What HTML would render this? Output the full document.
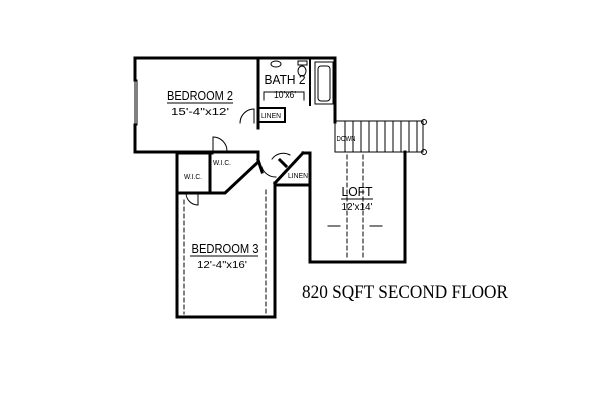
<!DOCTYPE html>
<html><head><meta charset="utf-8"><style>html,body{margin:0;padding:0;background:#fff;}svg{display:block}</style></head>
<body>
<svg width="600" height="400" viewBox="0 0 600 400" xmlns="http://www.w3.org/2000/svg" font-family="Liberation Sans, sans-serif">
<g stroke="#000" fill="none" stroke-linecap="square">
<g stroke-width="3">
<polyline points="135,58 335,58 335,122"/>
<polyline points="135,125 135,152 258,152 258,160"/>
<line x1="135" y1="58" x2="135" y2="80"/>
<line x1="258" y1="58" x2="258" y2="128"/>
<polyline points="177,153 177,317 275,317 275,183"/>
<line x1="177" y1="153" x2="212" y2="153"/>
<polyline points="177,193 225,193 258,162"/>
<line x1="210" y1="153" x2="210" y2="193"/>
<polyline points="303,153 310,153 310,262 405,262 405,152"/>
<polyline points="275,183 303,153"/>
<line x1="275" y1="185" x2="310" y2="185"/>
<line x1="258" y1="160" x2="262" y2="172"/>
<line x1="280" y1="160" x2="286" y2="166"/>
</g>
<line x1="135" y1="80" x2="135" y2="125" stroke-width="1"/>
<line x1="137" y1="80" x2="137" y2="125" stroke-width="1"/>
<g stroke-width="2">
<line x1="310" y1="58" x2="310" y2="105"/>
<rect x="258" y="108" width="27" height="14"/>
</g>
<g stroke-width="1">
<rect x="335" y="121" width="88" height="31"/>
<path d="M345 121v31M353 121v31M361 121v31M369 121v31M377 121v31M385 121v31M393 121v31M401 121v31M409 121v31M417 121v31"/>
<circle cx="424" cy="122" r="2.5"/><circle cx="424" cy="152" r="2.5"/>
<ellipse cx="276" cy="64" rx="5" ry="3"/>
<rect x="298" y="61" width="9" height="4"/>
<ellipse cx="302" cy="71" rx="4" ry="5"/>
<rect x="315" y="62" width="18" height="42"/>
<rect x="318" y="66" width="12" height="35" rx="3"/>
<path d="M264 92h40M264 92v8M304 92v8"/>
<path d="M240 123 a14 14 0 0 1 14 -14 v14"/>
<path d="M213 137 a14 14 0 0 1 14 14 h-14z"/>
<path d="M290 155 a14 14 0 0 0 -18 4"/>
<path d="M262 167 a14 14 0 0 0 14 10"/>
<path d="M186 193 a12 12 0 0 0 12 12 v-12"/>
<g stroke-dasharray="4,3">
<line x1="184" y1="200" x2="184" y2="314"/>
<line x1="266" y1="190" x2="266" y2="314"/>
<line x1="347" y1="155" x2="347" y2="260"/>
<line x1="363" y1="155" x2="363" y2="260"/>
</g>
<path d="M328 226h12M370 226h12"/>
</g>
</g>
<g fill="#000" text-anchor="middle" lengthAdjust="spacingAndGlyphs">
<text x="200" y="100" font-size="13" textLength="66" lengthAdjust="spacingAndGlyphs">BEDROOM 2</text>
<line x1="167" y1="103" x2="233" y2="103" stroke="#000"/>
<text x="200" y="115" font-size="10" textLength="58" lengthAdjust="spacingAndGlyphs">15'-4"x12'</text>
<text x="285" y="84" font-size="13" textLength="41" lengthAdjust="spacingAndGlyphs">BATH 2</text>
<text x="285" y="98" font-size="10" textLength="22" lengthAdjust="spacingAndGlyphs">10'x6'</text>
<text x="271" y="118" font-size="7" textLength="20" lengthAdjust="spacingAndGlyphs">LINEN</text>
<text x="346" y="141" font-size="7" textLength="19" lengthAdjust="spacingAndGlyphs">DOWN</text>
<text x="222" y="165" font-size="7" textLength="18" lengthAdjust="spacingAndGlyphs">W.I.C.</text>
<text x="193" y="179" font-size="7" textLength="18" lengthAdjust="spacingAndGlyphs">W.I.C.</text>
<text x="298" y="178" font-size="7" textLength="20" lengthAdjust="spacingAndGlyphs">LINEN</text>
<text x="357" y="196" font-size="13" textLength="31" lengthAdjust="spacingAndGlyphs">LOFT</text>
<line x1="341" y1="199" x2="373" y2="199" stroke="#000"/>
<text x="357" y="210" font-size="10" textLength="31" lengthAdjust="spacingAndGlyphs">12'x14'</text>
<text x="225" y="253" font-size="13" textLength="67" lengthAdjust="spacingAndGlyphs">BEDROOM 3</text>
<line x1="190" y1="256" x2="258" y2="256" stroke="#000"/>
<text x="222" y="268" font-size="10" textLength="50" lengthAdjust="spacingAndGlyphs">12'-4"x16'</text>
</g>
<text x="302" y="298" font-family="Liberation Serif, serif" font-size="19" textLength="206" lengthAdjust="spacingAndGlyphs">820 SQFT SECOND FLOOR</text>
</svg>
</body></html>
